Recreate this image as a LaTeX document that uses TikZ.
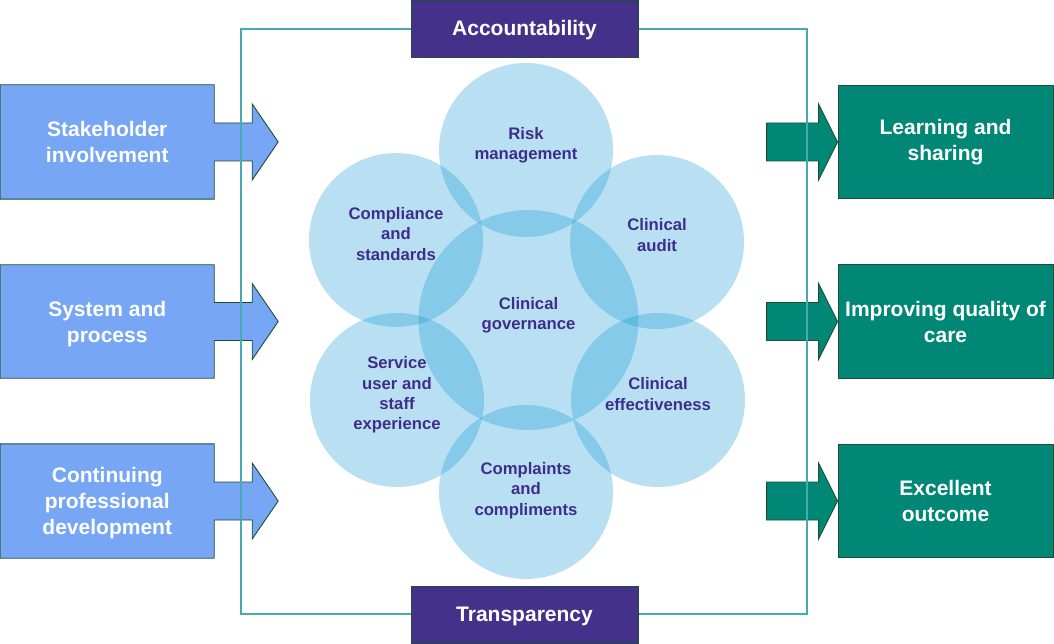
\documentclass[tikz,border=0pt]{standalone}
\usepackage{fontspec}
\setmainfont{Liberation Sans}
\usetikzlibrary{calc,backgrounds}
\definecolor{leftblue}{RGB}{118,166,244}
\definecolor{tealbox}{RGB}{0,135,117}
\definecolor{purplebox}{RGB}{68,49,138}
\definecolor{circtext}{RGB}{62,45,138}
\definecolor{framecol}{RGB}{70,170,178}
\definecolor{bordercol}{RGB}{30,77,53}
\definecolor{bubblecol}{RGB}{2,145,209}
\begin{document}
\begin{tikzpicture}[x=1pt,y=-1pt,
  boxtext/.style={text=white,font=\fontsize{21}{26}\selectfont\bfseries,align=center,inner sep=0pt},
  ctext/.style={text=circtext,font=\fontsize{16.7}{20.3}\selectfont\bfseries,align=center,inner sep=0pt},
  bubble/.style={circle,fill=bubblecol,fill opacity=0.28,inner sep=0pt,minimum size=174pt},
  bigbubble/.style={bubble,minimum size=220pt},
  leftshape/.style={fill=leftblue,draw=bordercol,line width=0.9pt},
  rightbox/.style={boxtext,fill=tealbox,draw=bordercol,line width=0.9pt,minimum width=215pt,minimum height=113.5pt},
  rightarrow/.style={fill=tealbox,draw=bordercol,line width=0.9pt},
  topbox/.style={fill=purplebox,draw=bordercol,line width=0.9pt,minimum width=227pt,minimum height=57pt,inner sep=0pt},
  frame/.style={draw=framecol,line width=1.8pt}]
\useasboundingbox (0,0) rectangle (1054,644);

% left boxes (text nodes; shapes on background)
\node[minimum width=213.5pt,minimum height=114pt,inner sep=0pt] (l1) at (107.25,142) {};
\node[minimum width=213.5pt,minimum height=113pt,inner sep=0pt] (l2) at (107.25,321.5) {};
\node[minimum width=213.5pt,minimum height=114pt,inner sep=0pt] (l3) at (107.25,501) {};
\node[boxtext] (tl1) at ($(l1)+(0,0)$) {Stakeholder\\involvement};
\node[boxtext] (tl2) at ($(l2)+(0,2.5)$) {System and\\process};
\node[boxtext] (tl3) at ($(l3)+(0,2)$) {Continuing\\professional\\development};
\begin{pgfonlayer}{background}
\foreach \b in {l1,l2,l3}{
  \path[leftshape] (\b.north west) -- (\b.north east) -- ($(\b.east)+(0,-19)$)
    -- ($(\b.east)+(38,-19)$) -- ($(\b.east)+(38,-38)$) -- ($(\b.east)+(64,0)$) coordinate (\b tip)
    -- ($(\b.east)+(38,38)$) -- ($(\b.east)+(38,19)$) -- ($(\b.east)+(0,19)$)
    -- (\b.south east) -- (\b.south west) -- cycle;
}
\end{pgfonlayer}

% right boxes and arrows
\node[rightbox] (r1) at (945.5,142) {Learning and\\sharing};
\node[rightbox] (r2) at (945.5,321.5) {Improving quality of\\care};
\node[rightbox] (r3) at (945.5,501) {Excellent\\outcome};
\foreach \b in {r1,r2,r3}{
  \coordinate (\b tail) at ($(\b.west)+(-71,0)$);
  \path[rightarrow] ($(\b tail)+(0,-19)$) -- ($(\b.west)+(-19,-19)$) -- ($(\b.west)+(-19,-38)$)
    -- (\b.west) -- ($(\b.west)+(-19,38)$) -- ($(\b.west)+(-19,19)$) -- ($(\b tail)+(0,19)$) -- cycle;
}

% circles
\node[bubble] (risk) at (526,150) {};
\node[bubble] (comp) at (396,240) {};
\node[bubble] (audit) at (657,242) {};
\node[bubble] (serv) at (397,400) {};
\node[bubble] (eff) at (658,400) {};
\node[bubble] (compl) at (526,492) {};
\node[bigbubble] (gov) at (528.5,320) {};

\node[ctext] (trisk) at ($(risk)+(0,-4.5)$) {Risk\\management};
\node[ctext] (tcomp) at ($(comp)+(0,-6)$) {Compliance\\and\\standards};
\node[ctext] (taudit) at ($(audit)+(0,-7)$) {Clinical\\audit};
\node[ctext] (tserv) at ($(serv)+(0,-5)$) {Service\\user and\\staff\\experience};
\node[ctext] (teff) at ($(eff)+(0,-6)$) {Clinical\\effectiveness};
\node[ctext] (tcompl) at ($(compl)+(0,-1.5)$) {Complaints\\and\\compliments};
\node[ctext] (tgov) at ($(gov)+(0,-5)$) {Clinical\\governance};

% frame
\draw[frame] (241,29) rectangle (807,614);

% top / bottom boxes
\node[topbox] (acc) at (524.5,28.5) {};
\node[topbox] (trans) at (524.5,614.5) {};
\node[boxtext] (tacc) at ($(acc)+(0,2)$) {Accountability};
\node[boxtext] (ttrans) at ($(trans)+(0,2)$) {Transparency};
\end{tikzpicture}
\end{document}
